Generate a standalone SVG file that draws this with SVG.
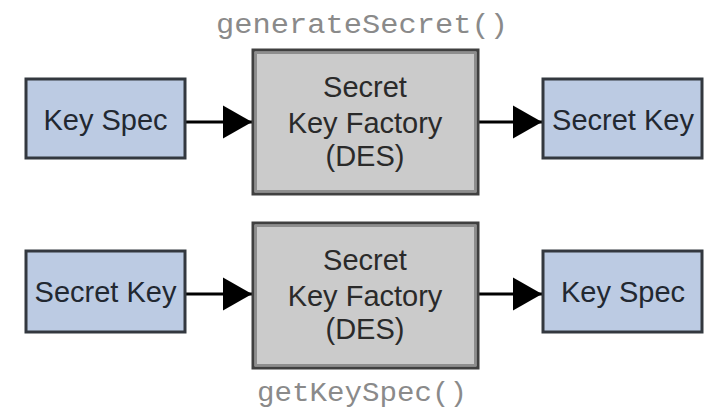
<svg xmlns="http://www.w3.org/2000/svg" width="707" height="409" viewBox="0 0 707 409">
  <defs>
    <style>
      .small { fill: #bccbe3; stroke: #33383f; stroke-width: 3; }
      .factory { fill: #cbcbcb; stroke: #404040; stroke-width: 3; }
      .bevel { fill: none; stroke: #8e8e8e; stroke-width: 2; }
      .lbl { font-family: "Liberation Sans", Arial, sans-serif; font-size: 29px; fill: #222831; text-anchor: middle; }
      .flbl { font-family: "Liberation Sans", Arial, sans-serif; font-size: 29px; fill: #2a2a2a; text-anchor: middle; }
      .code { font-family: "Liberation Mono", "Courier New", monospace; font-size: 27px; fill: #8a8a8a; text-anchor: middle; }
      .conn { stroke: #000; stroke-width: 3; fill: none; marker-end: url(#arrow); }
    </style>
    <marker id="arrow" markerUnits="userSpaceOnUse" markerWidth="30" markerHeight="34" refX="29" refY="17" orient="auto">
      <path d="M0,0.5 L29,17 L0,33.5 Z" fill="#000"/>
    </marker>
  </defs>

  <rect width="707" height="409" fill="#ffffff"/>

  <g id="connectors">
    <line class="conn" x1="186" y1="122" x2="252" y2="122"/>
    <line class="conn" x1="478" y1="122" x2="542" y2="122"/>
    <line class="conn" x1="186" y1="294" x2="252" y2="294"/>
    <line class="conn" x1="478" y1="294" x2="542" y2="294"/>
  </g>

  <g id="label-generate">
    <text class="code" x="362" y="33" textLength="292" lengthAdjust="spacingAndGlyphs">generateSecret()</text>
  </g>

  <g id="keyspec-top">
    <rect class="small" x="26" y="79" width="159" height="79"/>
    <text class="lbl" x="105.5" y="130">Key Spec</text>
  </g>

  <g id="factory-top">
    <rect class="factory" x="253" y="50" width="225" height="144"/>
    <rect class="bevel" x="256" y="53" width="219" height="138"/>
    <text class="flbl" x="365" y="97">Secret</text>
    <text class="flbl" x="365" y="133">Key Factory</text>
    <text class="flbl" x="365" y="166">(DES)</text>
  </g>

  <g id="secretkey-top">
    <rect class="small" x="543" y="79" width="159" height="79"/>
    <text class="lbl" x="623" y="130">Secret Key</text>
  </g>

  <g id="secretkey-bottom">
    <rect class="small" x="26" y="251" width="159" height="81"/>
    <text class="lbl" x="105.5" y="302">Secret Key</text>
  </g>

  <g id="factory-bottom">
    <rect class="factory" x="253" y="223" width="225" height="145"/>
    <rect class="bevel" x="256" y="226" width="219" height="139"/>
    <text class="flbl" x="365" y="270">Secret</text>
    <text class="flbl" x="365" y="306">Key Factory</text>
    <text class="flbl" x="365" y="339">(DES)</text>
  </g>

  <g id="keyspec-bottom">
    <rect class="small" x="543" y="251" width="159" height="81"/>
    <text class="lbl" x="623" y="302">Key Spec</text>
  </g>

  <g id="label-getkeyspec">
    <text class="code" x="362" y="401" textLength="210" lengthAdjust="spacingAndGlyphs">getKeySpec()</text>
  </g>
</svg>
